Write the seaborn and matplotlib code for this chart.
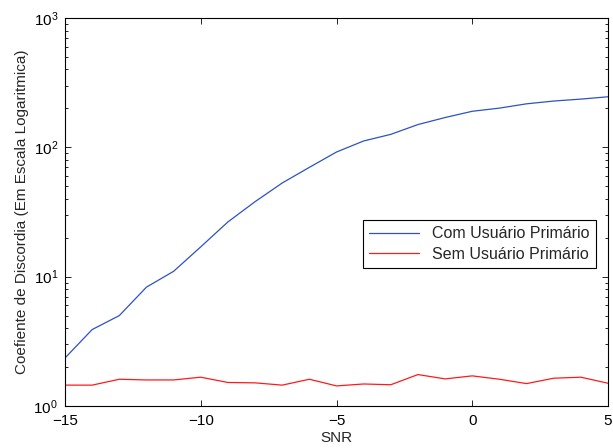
import numpy as np
import pandas as pd
import matplotlib
matplotlib.use("Agg")
import matplotlib.pyplot as plt
from matplotlib.ticker import LogLocator, NullFormatter
import seaborn as sns

# SNR axis and the two curves
snr = list(range(-15, 6))
com_pu = [2.35, 3.9, 5.0, 8.3, 11.0, 17.0, 26.5, 38, 53, 70, 92, 112, 126,
          150, 170, 190, 201, 217, 228, 236, 246]
sem_pu = [1.45, 1.45, 1.61, 1.59, 1.59, 1.67, 1.52, 1.51, 1.45, 1.61, 1.43,
          1.48, 1.46, 1.75, 1.62, 1.71, 1.61, 1.49, 1.64, 1.67, 1.50]
labels = ["Com Usuário Primário", "Sem Usuário Primário"]

df = pd.concat([
    pd.DataFrame({"SNR": snr, "val": com_pu, "serie": labels[0]}),
    pd.DataFrame({"SNR": snr, "val": sem_pu, "serie": labels[1]}),
])

sns.set_style("ticks")
plt.rcParams["font.family"] = ["Liberation Sans", "DejaVu Sans"]
fs = 11

fig = plt.figure(figsize=(6.13, 4.48), dpi=100)
ax = fig.add_axes([65 / 613, 1 - 406 / 448, 543 / 613, 388 / 448])

sns.lineplot(data=df, x="SNR", y="val", hue="serie", hue_order=labels,
             palette=["#2d52c2", "#ff1a1a"], linewidth=0.9, ax=ax)

ax.set_yscale("log")
ax.set_xlim(-15, 5)
ax.set_ylim(1, 1000)
ax.set_xticks([-15, -10, -5, 0, 5])
ax.set_xticklabels(["\u221215", "\u221210", "\u22125", "0", "5"])
ax.yaxis.set_major_locator(LogLocator(base=10, numticks=10))
ax.yaxis.set_minor_locator(LogLocator(base=10, subs=np.arange(2, 10), numticks=10))
ax.yaxis.set_minor_formatter(NullFormatter())

ax.tick_params(which="both", direction="in", top=True, right=True,
               labelsize=fs, colors="black", width=0.6)
ax.tick_params(axis="x", pad=6)
ax.tick_params(axis="y", pad=5)
ax.tick_params(which="major", length=4)
ax.tick_params(which="minor", length=2)
for s in ax.spines.values():
    s.set_visible(True)
    s.set_linewidth(0.8)
    s.set_color("black")

ax.set_xlabel("SNR", fontsize=fs, labelpad=2)
ax.set_ylabel("Coefiente de Discordia (Em Escala Logaritmica)", fontsize=fs, labelpad=3)

leg = ax.legend(loc="lower right", bbox_to_anchor=(0.977, 0.355), fontsize=11.5,
                frameon=True, fancybox=False, edgecolor="black", framealpha=1,
                handlelength=3.1, borderpad=0.4, labelspacing=0.35,
                borderaxespad=0)
leg.get_frame().set_linewidth(0.8)

fig.savefig("out.png", dpi=100)
